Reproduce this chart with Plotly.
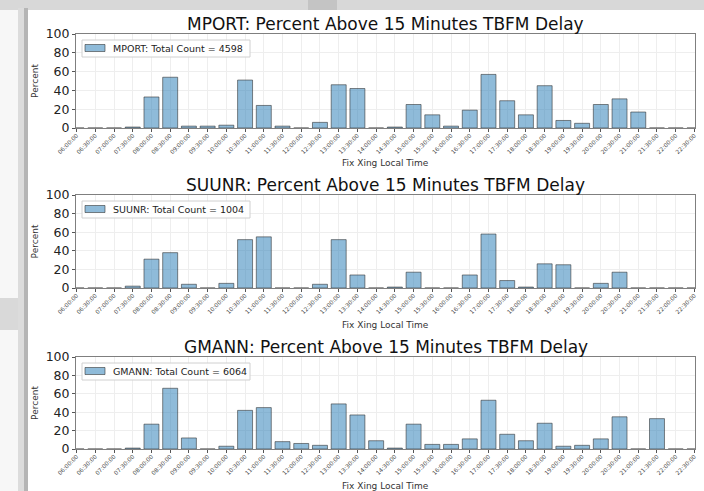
import plotly.graph_objects as go

times = ["06:00:00", "06:30:00", "07:00:00", "07:30:00", "08:00:00", "08:30:00",
         "09:00:00", "09:30:00", "10:00:00", "10:30:00", "11:00:00", "11:30:00",
         "12:00:00", "12:30:00", "13:00:00", "13:30:00", "14:00:00", "14:30:00",
         "15:00:00", "15:30:00", "16:00:00", "16:30:00", "17:00:00", "17:30:00",
         "18:00:00", "18:30:00", "19:00:00", "19:30:00", "20:00:00", "20:30:00",
         "21:00:00", "21:30:00", "22:00:00", "22:30:00"]

fixes = ["MPORT", "SUUNR", "GMANN"]
total_counts = [4598, 1004, 6064]

mport = [0, 0, 0, 1, 33, 54, 2, 2, 3, 51, 24, 2, 0, 6, 46, 42, 0, 1,
         25, 14, 2, 19, 57, 29, 14, 45, 8, 5, 25, 31, 17, 0, 0, 0]
suunr = [0, 0, 0, 2, 31, 38, 4, 0, 5, 52, 55, 0, 0, 4, 52, 14, 0, 1,
         17, 0, 0, 14, 58, 8, 1, 26, 25, 0, 5, 17, 0, 0, 0, 0]
gmann = [0, 0, 0, 1, 27, 66, 12, 0, 3, 42, 45, 8, 6, 4, 49, 37, 9, 1,
         27, 5, 5, 11, 53, 16, 9, 28, 3, 4, 11, 35, 0, 33, 0, 0]
series = [mport, suunr, gmann]

W, H = 704, 491
fig = go.Figure()

# panel geometry in pixels (top, bottom)
x0px, x1px = 76, 695
rows_px = [(34, 128), (195, 288), (357, 449)]
title_px = [24, 185, 347]
xtitle_gap = [35, 37, 37]

def px_x(p):
    return p / W

def py(p):
    return 1 - p / H

bar_fill = "rgba(31,119,180,0.5)"
bar_edge = "rgba(40,40,40,0.55)"
shapes = []
annotations = []

for i, (name, cnt, vals) in enumerate(zip(fixes, total_counts, series)):
    ax = "" if i == 0 else str(i + 1)
    label = f"{name}: Total Count = {cnt}"
    fig.add_trace(go.Bar(
        x=times, y=vals, name=label,
        xaxis="x" + ax, yaxis="y" + ax,
        marker=dict(color=bar_fill, line=dict(color=bar_edge, width=1)),
        width=0.8, showlegend=False,
    ))
    top, bot = rows_px[i]
    fig.layout["xaxis" + ax] = dict(
        domain=[px_x(x0px), px_x(x1px)], anchor="y" + ax,
        type="category", range=[-0.03, 33.03], automargin=False,
        tickangle=-45, tickfont=dict(size=5.8, color="#444", family="DejaVu Sans"),
        ticklabelstandoff=-2,
        showgrid=True, gridcolor="#eeeeee", gridwidth=1,
        showline=True, linecolor="#7f7f7f", linewidth=1, mirror=True,
        ticks="outside", ticklen=3, tickcolor="#555",
    )
    fig.layout["yaxis" + ax] = dict(
        domain=[py(bot), py(top)], anchor="x" + ax, range=[0, 100], automargin=False,
        tickvals=[0, 20, 40, 60, 80, 100],
        tickfont=dict(size=12.5, color="#222", family="DejaVu Sans"),
        showgrid=True, gridcolor="#eeeeee", gridwidth=1,
        showline=True, linecolor="#7f7f7f", linewidth=1, mirror=True,
        ticks="outside", ticklen=3, tickcolor="#555",
        zeroline=False,
        title=dict(text="Percent", font=dict(size=9, color="#333", family="DejaVu Sans"), standoff=5),
    )
    # x-axis title placed like matplotlib's xlabel
    annotations.append(dict(text="Fix Xing Local Time", x=px_x((x0px + x1px) / 2), y=py(bot + xtitle_gap[i]),
                            xref="paper", yref="paper", xanchor="center", yanchor="middle", showarrow=False,
                            font=dict(size=9, color="#333", family="DejaVu Sans")))
    # matplotlib-style legend box
    shapes.append(dict(type="rect", xref="paper", yref="paper",
                       x0=px_x(82), x1=px_x(250), y0=py(top + 23), y1=py(top + 6),
                       fillcolor="rgba(255,255,255,0.85)", line=dict(color="#d0d0d0", width=1)))
    shapes.append(dict(type="rect", xref="paper", yref="paper",
                       x0=px_x(85), x1=px_x(105), y0=py(top + 17.5), y1=py(top + 10.5),
                       fillcolor=bar_fill, line=dict(color=bar_edge, width=1)))
    annotations.append(dict(text=label, x=px_x(111), y=py(top + 14.5), xref="paper", yref="paper",
                            xanchor="left", yanchor="middle", showarrow=False,
                            font=dict(size=9.5, color="#222", family="DejaVu Sans")))
    annotations.append(dict(
        text=f"{name}: Percent Above 15 Minutes TBFM Delay",
        x=px_x((x0px + x1px) / 2), y=py(title_px[i]), xref="paper", yref="paper",
        xanchor="center", yanchor="middle", showarrow=False,
        font=dict(size=17, color="#111", family="DejaVu Sans"),
    ))

# background: screenshot window frame and shadow
bg = [
    dict(type="rect", xref="paper", yref="paper", x0=0, x1=1, y0=py(10), y1=1,
         fillcolor="#d8d8d8", line=dict(width=0), layer="below"),
    dict(type="rect", xref="paper", yref="paper", x0=px_x(308), x1=px_x(337), y0=py(10), y1=1,
         fillcolor="#c4c4c4", line=dict(width=0), layer="below"),
    dict(type="rect", xref="paper", yref="paper", x0=0, x1=px_x(28), y0=py(330), y1=py(298),
         fillcolor="#d9d9d9", line=dict(width=0), layer="below"),
    dict(type="rect", xref="paper", yref="paper", x0=px_x(18), x1=px_x(24), y0=0, y1=py(8),
         fillcolor="#dcdcdc", line=dict(width=0), layer="below"),
    dict(type="rect", xref="paper", yref="paper", x0=px_x(24), x1=px_x(28), y0=0, y1=py(8),
         fillcolor="#b5b5b5", line=dict(width=0), layer="below"),
    dict(type="rect", xref="paper", yref="paper", x0=px_x(28), x1=1, y0=0, y1=py(10),
         fillcolor="white", line=dict(width=0), layer="below"),
]

fig.update_layout(
    width=W, height=H, margin=dict(l=0, r=0, t=0, b=0),
    paper_bgcolor="#f7f7f7", plot_bgcolor="white",
    bargap=0.2, shapes=bg + shapes, annotations=annotations,
    font=dict(family="DejaVu Sans"), showlegend=False,
)

fig.write_html("out.html", config={"displayModeBar": False},
               post_script="document.body.style.margin='0';document.body.style.overflow='hidden';")
